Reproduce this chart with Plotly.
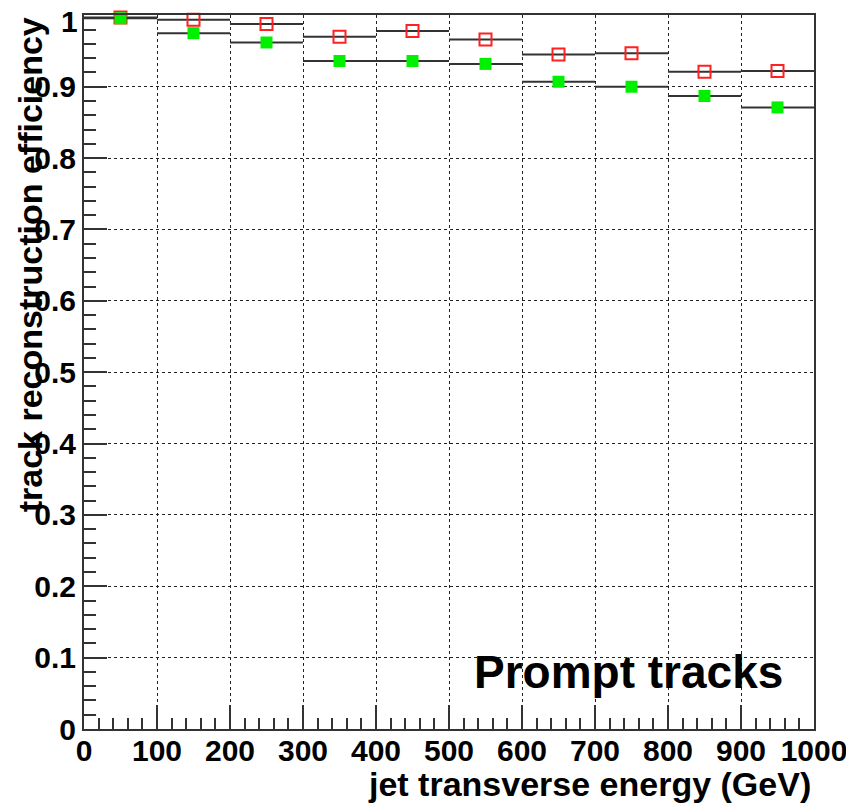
import plotly.graph_objects as go

# Data
bin_centers = [50, 150, 250, 350, 450, 550, 650, 750, 850, 950]
bin_half_width = [50] * 10
eff_red_open = [0.997, 0.994, 0.988, 0.970, 0.978, 0.966, 0.945, 0.947, 0.921, 0.922]
eff_green_filled = [0.996, 0.975, 0.962, 0.936, 0.936, 0.932, 0.907, 0.900, 0.887, 0.871]
x_ticks = [0, 100, 200, 300, 400, 500, 600, 700, 800, 900, 1000]
y_ticks = [0, 0.1, 0.2, 0.3, 0.4, 0.5, 0.6, 0.7, 0.8, 0.9, 1.0]
y_ticklabels = ["0", "0.1", "0.2", "0.3", "0.4", "0.5", "0.6", "0.7", "0.8", "0.9", "1"]

FONT = "Liberation Sans, Arial, Helvetica, sans-serif"
AXC = "#333333"

# the top label "1" would be auto-hidden by plotly at the page edge,
# so it is drawn as an annotation at the same tick position instead
axis_ticktext = y_ticklabels[:-1] + [""]

fig = go.Figure()
fig.add_trace(go.Scatter(
    x=bin_centers, y=eff_red_open, mode="markers",
    marker=dict(symbol="square-open", size=12, color="#ff2020", line=dict(width=2)),
    error_x=dict(type="data", array=bin_half_width, width=0, thickness=2, color=AXC),
    cliponaxis=False, showlegend=False,
))
fig.add_trace(go.Scatter(
    x=bin_centers, y=eff_green_filled, mode="markers",
    marker=dict(symbol="square", size=12, color="#00f000", line=dict(width=0)),
    error_x=dict(type="data", array=bin_half_width, width=0, thickness=2, color=AXC),
    cliponaxis=False, showlegend=False,
))

# page body has an 8px margin, so the figure is slightly smaller than the window
fig.update_layout(
    width=846, height=797,
    margin=dict(l=76, r=40, t=7, b=76),
    paper_bgcolor="white", plot_bgcolor="white",
    font=dict(family=FONT, color="black"),
    xaxis=dict(
        range=[0, 1000], tickvals=x_ticks, ticktext=[str(v) for v in x_ticks],
        automargin=False,
        ticks="inside", ticklen=24, tickwidth=1.5, tickcolor=AXC,
        minor=dict(ticks="inside", ticklen=11, dtick=20, tickwidth=1.5, tickcolor=AXC, showgrid=False),
        showline=True, linecolor=AXC, linewidth=2, mirror=True,
        showgrid=True, gridcolor="#222222", griddash="dot", gridwidth=1,
        zeroline=False, ticklabelstandoff=-6,
        tickfont=dict(size=30, family=FONT, weight="bold", color="black"),
    ),
    yaxis=dict(
        range=[0, 1.0005], tickvals=y_ticks, ticktext=axis_ticktext,
        automargin=False,
        ticks="inside", ticklen=23, tickwidth=1.5, tickcolor=AXC,
        minor=dict(ticks="inside", ticklen=12, dtick=0.02, tickwidth=1.5, tickcolor=AXC, showgrid=False),
        showline=True, linecolor=AXC, linewidth=2, mirror=True,
        showgrid=True, gridcolor="#222222", griddash="dot", gridwidth=1,
        zeroline=False,
        tickfont=dict(size=30, family=FONT, weight="bold", color="black"),
    ),
    annotations=[
        dict(text=y_ticklabels[-1], xref="paper", yref="y",
             x=0, y=y_ticks[-1], xanchor="right", yanchor="middle", valign="middle",
             height=24, xshift=-4, yshift=-6, showarrow=False,
             font=dict(size=30, family=FONT, weight="bold", color="black")),
        dict(text="jet transverse energy (GeV)", xref="paper", yref="paper",
             x=0.998, y=-0.047, xanchor="right", yanchor="top", showarrow=False,
             font=dict(size=34, family=FONT, weight="bold", color="black")),
        dict(text="track reconstruction efficiency", xref="paper", yref="paper",
             x=-0.103, y=1.0, xanchor="left", yanchor="top", textangle=-90, showarrow=False,
             font=dict(size=34, family=FONT, weight="bold", color="black")),
        dict(text="Prompt tracks", xref="x", yref="y",
             x=960, y=0.08, xanchor="right", yanchor="middle", showarrow=False,
             font=dict(size=46, family=FONT, weight="bold", color="black")),
    ],
)

fig.write_html("out.html")
